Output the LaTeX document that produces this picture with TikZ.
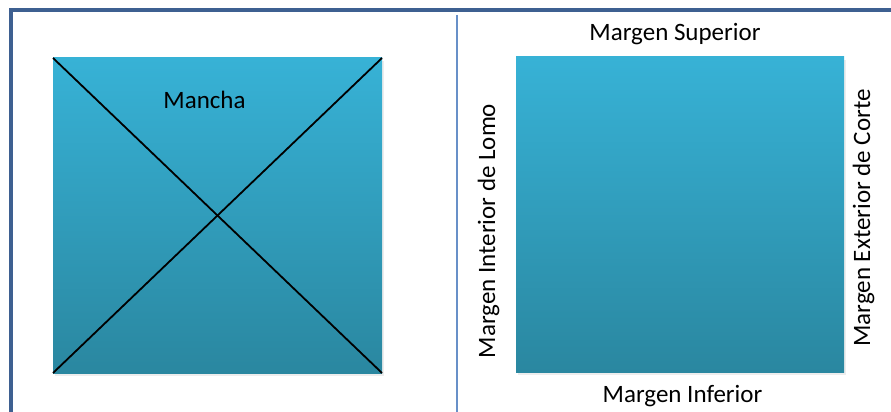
\documentclass[tikz,border=0pt]{standalone}
\usepackage{fontspec}
\setmainfont{Carlito}
\definecolor{frameblue}{RGB}{62,96,145}
\definecolor{divblue}{RGB}{104,144,200}
\definecolor{padtop}{RGB}{55,178,214}
\definecolor{padbot}{RGB}{42,135,160}
\tikzset{
  pad/.style={shade, top color=padtop, bottom color=padbot, inner sep=0pt, outer sep=0pt},
  padshadow/.style={fill=black, opacity=0.07, inner sep=0pt, outer sep=0pt},
  lbl/.style={font=\fontsize{25}{30}\selectfont, inner sep=0pt, anchor=base, text=black},
}
\begin{document}
\begin{tikzpicture}[x=1pt,y=-1pt]
\useasboundingbox (0,0) rectangle (891,412);
\fill[white] (0,0) rectangle (891,412);
% frame
\draw[frameblue, line width=4pt] (10.5,412) -- (10.5,10.3) -- (891,10.3);
\draw[divblue, line width=2pt] (457,15) -- (457,412);
% shadows
\node[padshadow, minimum width=329pt, minimum height=315pt] (Ls) at (219.5,218.5) {};
\node[padshadow, minimum width=328pt, minimum height=315pt] (Rs) at (682,217.5) {};
% pads
\node[pad, minimum width=329pt, minimum height=315pt] (L) at (217.5,215.5) {};
\node[pad, minimum width=328pt, minimum height=315pt] (R) at (680,214.5) {};
% cross
\draw[black, line width=1.8pt] (L.north west) -- (L.south east);
\draw[black, line width=1.8pt] (L.south west) -- (L.north east);
% labels
\node[lbl] (mancha) at (204.5,108) {Mancha};
\node[lbl] (sup) at (675,41) {Margen Superior};
\node[lbl] (inf) at (682.5,402) {Margen Inferior};
\node[lbl, rotate=90] (lomo) at (495,231) {Margen Interior de Lomo};
\node[lbl, rotate=90] (corte) at (870,218) {Margen Exterior de Corte};
\end{tikzpicture}
\end{document}
